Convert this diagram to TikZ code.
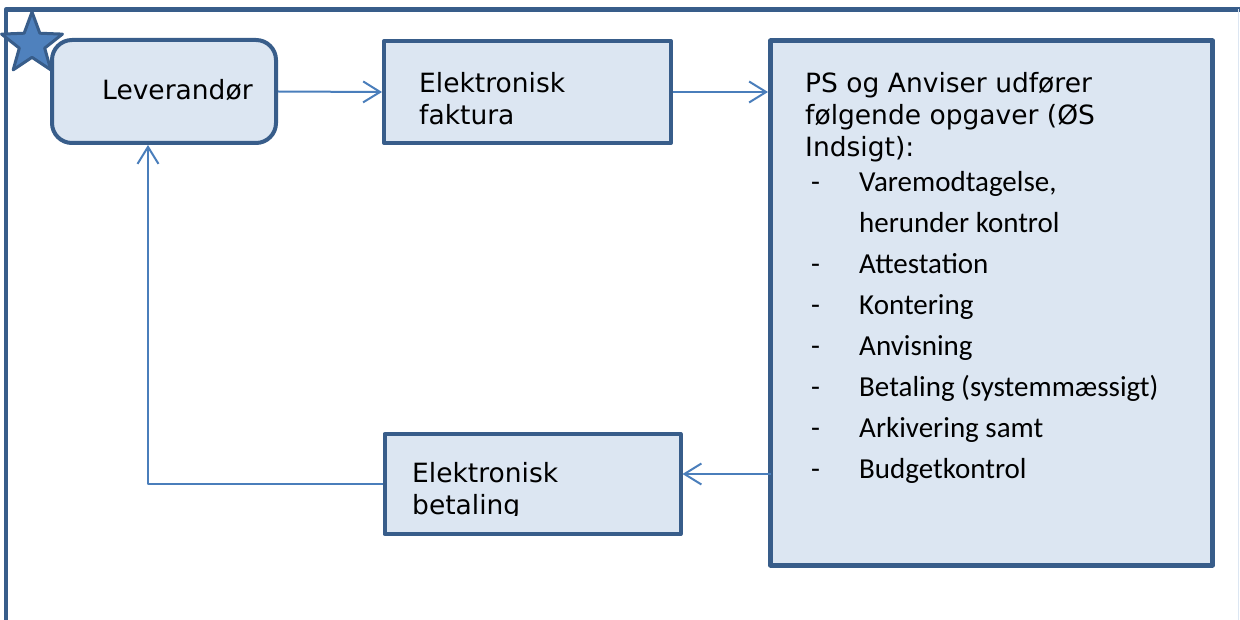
\documentclass[tikz,border=0pt]{standalone}
\usepackage{fontspec}
\setmainfont{DejaVu Sans}
\newfontfamily\listfont{Carlito}
\usetikzlibrary{arrows.meta,shapes.geometric}
\definecolor{boxline}{RGB}{56,93,138}
\definecolor{boxfill}{RGB}{220,230,242}
\definecolor{arrowblue}{RGB}{74,126,187}
\definecolor{starblue}{RGB}{79,129,189}
\begin{document}
\begin{tikzpicture}[x=1pt, y=-1pt, font=\fontsize{26.5}{32}\selectfont, line join=round, >={Straight Barb[length=17pt,width=21pt]},
	box/.style={draw=boxline, fill=boxfill, line width=4pt, inner sep=0pt},
	txt/.style={anchor=base west, inner sep=0pt, align=left},
	listtxt/.style={txt, font=\listfont\fontsize{29}{35}\selectfont},
	arr/.style={->, draw=arrowblue, line width=2pt}]
	\def\ytop{192} \def\ystep{40.9}
	\useasboundingbox (0,0) rectangle (1240,620);
	% frame and star
	\draw[boxline, line width=4.5pt] (6,620) -- (6,9.5) -- (1240,9.5);
	\draw[boxfill, line width=1pt] (1238.5,9.5) -- (1238.5,620);
	\node[star, star points=5, star point ratio=2.4, minimum size=64pt, inner sep=0pt, draw=boxline, fill=starblue, line width=3pt] (star) at (32,44) {};
	% boxes
	\node[box, rounded corners=20pt, minimum width=224pt, minimum height=103pt] (lev) at (164,91.5) {};
	\node[box, minimum width=287pt, minimum height=102pt] (fak) at (527.5,92) {};
	\node[box, line width=5pt, minimum width=442pt, minimum height=524pt] (ops) at (991.5,303) {};
	\node[box, minimum width=296pt, minimum height=100pt] (bet) at (532.5,484) {};
	% texts (base = last line)
	\node[txt] (levtxt) at (102,100) {Leverandør};
	\node[txt] (faktxt) at (419,125) {Elektronisk\\faktura};
	\begin{scope}
		\clip (380,430) rectangle (690,515);
		\node[txt] (bettxt) at (412,514) {Elektronisk\\betaling};
	\end{scope}
	\node[txt] (opstxt) at (805,157) {PS og Anviser udfører\\følgende opgaver (ØS\\Indsigt):};
	\foreach \t [count=\i from 0] in {{Varemodtagelse,}, herunder kontrol, Attestation, Kontering, Anvisning, Betaling (systemmæssigt), Arkivering samt, Budgetkontrol}
		\node[listtxt] (item\i) at (859,\ytop+\ystep*\i) {\t};
	\foreach \i in {0,2,3,4,5,6,7}
		\node[listtxt] (bul\i) at (811,\ytop+\ystep*\i) {-};
	% connectors
	\coordinate (paid) at (770.5,474);
	\draw[arr] (lev.east) -- (fak.west);
	\draw[arr] (fak.east) -- (fak.east -| ops.west);
	\draw[arr] (paid) -- (paid -| bet.east);
	\draw[arr] (bet.west) -| ([xshift=-16pt]lev.south);
\end{tikzpicture}
\end{document}
